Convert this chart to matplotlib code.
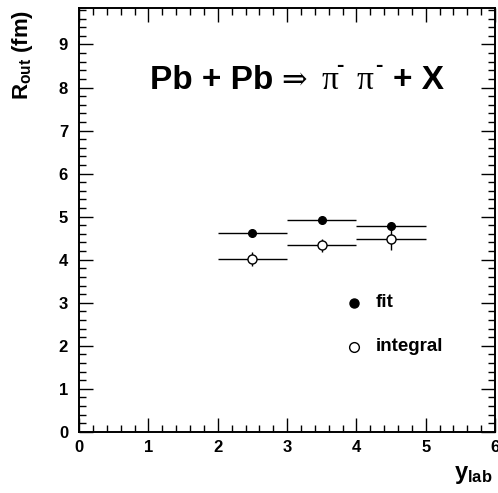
import matplotlib
matplotlib.use("Agg")
import matplotlib.pyplot as plt
from matplotlib.ticker import MultipleLocator

plt.rcParams['font.family'] = ['Liberation Sans', 'DejaVu Sans']
plt.rcParams['font.weight'] = 'bold'
plt.rcParams['mathtext.fontset'] = 'custom'
plt.rcParams['mathtext.rm'] = 'Liberation Sans:bold'
plt.rcParams['mathtext.it'] = 'Liberation Sans:bold'
plt.rcParams['mathtext.bf'] = 'Liberation Sans:bold'

# data
y_lab = [2.5, 3.5, 4.5]
y_halfwidth = [0.5, 0.5, 0.5]
r_fit = [4.63, 4.93, 4.79]
r_fit_err = [0.03, 0.03, 0.03]
r_int = [4.02, 4.34, 4.47]
r_int_err = [0.16, 0.15, 0.25]
x_ticks = [0, 1, 2, 3, 4, 5, 6]
y_ticks = [0, 1, 2, 3, 4, 5, 6, 7, 8, 9]

fig = plt.figure(figsize=(4.98, 4.93), dpi=100)
ax = fig.add_axes([0.159, 0.124, 0.835, 0.860])
ax.set_xlim(0, 6)
ax.set_ylim(0, 9.85)

ax.errorbar(y_lab, r_fit, xerr=y_halfwidth, yerr=r_fit_err, fmt='o', color='black',
            mfc='black', mec='black', ms=5.5, elinewidth=1.0, capsize=0)
ax.errorbar(y_lab, r_int, xerr=y_halfwidth, yerr=r_int_err, fmt='o', color='black',
            mfc='white', mec='black', ms=6.5, mew=1.0, elinewidth=1.0, capsize=0)

# legend
ax.plot([3.96], [3.0], 'o', color='black', ms=6.5)
ax.plot([3.96], [1.98], 'o', mfc='white', mec='black', ms=7, mew=1.0)
ax.text(4.28, 3.0, 'fit', fontsize=13.5, fontweight='bold', va='center', ha='left')
ax.text(4.28, 1.98, 'integral', fontsize=13.5, fontweight='bold', va='center', ha='left')

# title pieces
def px2x(px):
    return (px - 79) / (416 / 6)
base = 7.96
sup = base + 0.42
ax.text(px2x(150), base, 'Pb + Pb', fontsize=24, fontweight='bold', va='baseline')
ax.text(px2x(281), base + 0.02, '\u21d2', fontsize=22, fontweight='normal',
        family=['DejaVu Serif'], va='baseline')
ax.text(px2x(321), base, '\u03c0', fontsize=24, fontweight='normal',
        family=['Liberation Serif', 'DejaVu Serif'], va='baseline')
ax.text(px2x(336), sup, '-', fontsize=16, fontweight='bold', va='baseline')
ax.text(px2x(356), base, '\u03c0', fontsize=24, fontweight='normal',
        family=['Liberation Serif', 'DejaVu Serif'], va='baseline')
ax.text(px2x(375), sup, '-', fontsize=16, fontweight='bold', va='baseline')
ax.text(px2x(393), base, '+ X', fontsize=24, fontweight='bold', va='baseline')

# axes styling
for s in ax.spines.values():
    s.set_linewidth(1.4)
ax.set_xticks(x_ticks)
ax.set_yticks(y_ticks)
ax.xaxis.set_minor_locator(MultipleLocator(0.2))
ax.yaxis.set_minor_locator(MultipleLocator(0.2))
ax.tick_params(which='both', direction='in', top=True, right=True, width=1.0)
ax.tick_params(which='major', length=10, labelsize=12, pad=6)
ax.tick_params(which='minor', length=5)
ax.tick_params(axis='y', which='major', pad=8)
for lab in ax.get_xticklabels() + ax.get_yticklabels():
    lab.set_fontweight('bold')

fig.text(0.045, 0.98, r'$\mathregular{R_{out}}$ (fm)', rotation=90, fontsize=16,
         fontweight='bold', ha='center', va='top')
fig.text(0.99, 0.015, r'$\mathregular{y_{lab}}$', fontsize=17, fontweight='bold',
         ha='right', va='bottom')

fig.savefig('out.png', dpi=100)
